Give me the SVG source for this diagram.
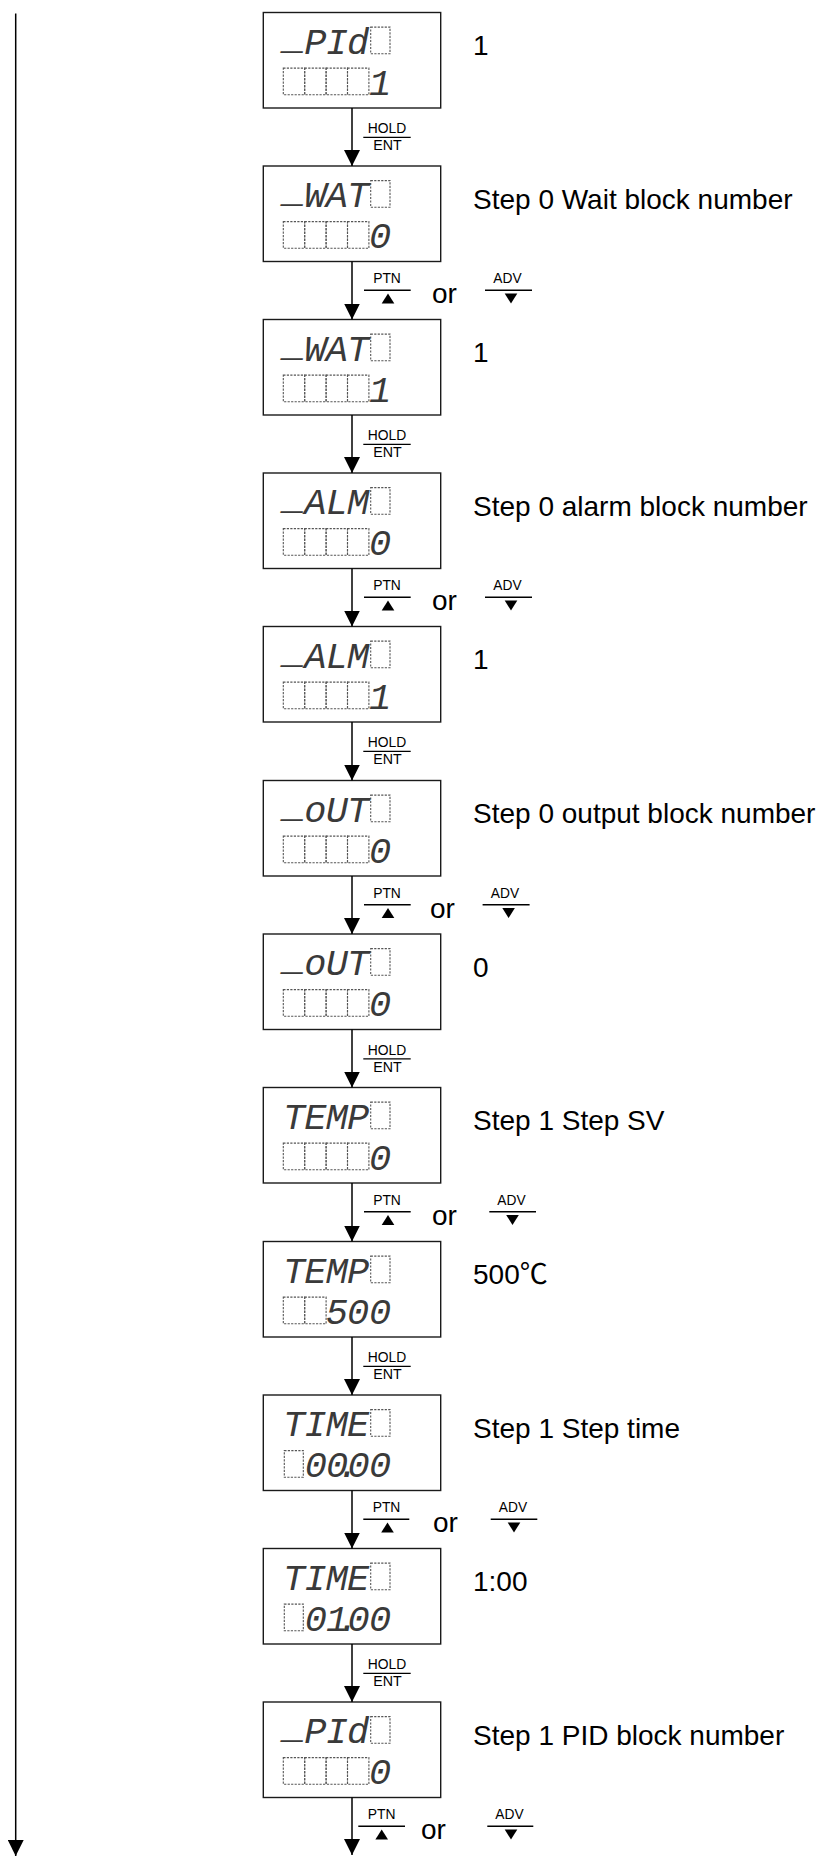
<svg xmlns="http://www.w3.org/2000/svg" width="826" height="1865" viewBox="0 0 826 1865">
<defs>
<style>
.box{fill:#fff;stroke:#1a1a1a;stroke-width:1.4}
.cell{fill:none;stroke:#555;stroke-width:1.1;stroke-dasharray:2.2 1.3}
.seg{font-family:"Liberation Mono","DejaVu Sans Mono",monospace;font-style:italic;font-size:37px;fill:#3a3a3a;text-anchor:middle}
.lbl{font-family:"Liberation Sans",Arial,"Noto Sans CJK JP",sans-serif;font-size:28px;fill:#000}
.key{font-family:"Liberation Sans",Arial,sans-serif;font-size:14px;fill:#000;text-anchor:middle}
.wire{stroke:#000;stroke-width:1.5;fill:none}
.bar{stroke:#000;stroke-width:1.4}
.tri{fill:#000}
</style>
<marker id="ah" markerUnits="userSpaceOnUse" markerWidth="16" markerHeight="16" viewBox="0 0 15 15" refX="15" refY="7.5" orient="auto"><path d="M0,0 L15,7.5 L0,15 z" fill="#000"/></marker>
<rect id="topcell" class="cell" x="370.7" y="14.6" width="19.3" height="26.7"/>
<g id="cells4">
<rect class="cell" x="283.3" y="55.6" width="21.4" height="26.7"/>
<rect class="cell" x="304.7" y="55.6" width="21.4" height="26.7"/>
<rect class="cell" x="326.1" y="55.6" width="21.4" height="26.7"/>
<rect class="cell" x="347.5" y="55.6" width="21.4" height="26.7"/>
</g>
</defs>
<rect width="826" height="1865" fill="#fff"/>

<g id="n1" transform="translate(0,12.5)">
<rect class="box" x="263.3" y="0" width="177.4" height="95.5"/>
<use href="#topcell"/><use href="#cells4"/>
<text class="seg"><tspan x="294" y="36">_</tspan><tspan x="315.4 336.8 358.2" y="41.3">PId</tspan></text>
<text class="seg" x="380" y="82.3">1</text>
<text class="lbl" x="473" y="42.5">1</text>
</g>

<g id="n2" transform="translate(0,166)">
<rect class="box" x="263.3" y="0" width="177.4" height="95.5"/>
<use href="#topcell"/><use href="#cells4"/>
<text class="seg"><tspan x="294" y="36">_</tspan><tspan x="315.4 336.8 358.2" y="41.3">WAT</tspan></text>
<text class="seg" x="380" y="82.3">0</text>
<text class="lbl" x="473" y="42.5">Step 0 Wait block number</text>
</g>

<g id="n3" transform="translate(0,319.5)">
<rect class="box" x="263.3" y="0" width="177.4" height="95.5"/>
<use href="#topcell"/><use href="#cells4"/>
<text class="seg"><tspan x="294" y="36">_</tspan><tspan x="315.4 336.8 358.2" y="41.3">WAT</tspan></text>
<text class="seg" x="380" y="82.3">1</text>
<text class="lbl" x="473" y="42.5">1</text>
</g>

<g id="n4" transform="translate(0,473)">
<rect class="box" x="263.3" y="0" width="177.4" height="95.5"/>
<use href="#topcell"/><use href="#cells4"/>
<text class="seg"><tspan x="294" y="36">_</tspan><tspan x="315.4 336.8 358.2" y="41.3">ALM</tspan></text>
<text class="seg" x="380" y="82.3">0</text>
<text class="lbl" x="473" y="42.5">Step 0 alarm block number</text>
</g>

<g id="n5" transform="translate(0,626.5)">
<rect class="box" x="263.3" y="0" width="177.4" height="95.5"/>
<use href="#topcell"/><use href="#cells4"/>
<text class="seg"><tspan x="294" y="36">_</tspan><tspan x="315.4 336.8 358.2" y="41.3">ALM</tspan></text>
<text class="seg" x="380" y="82.3">1</text>
<text class="lbl" x="473" y="42.5">1</text>
</g>

<g id="n6" transform="translate(0,780.5)">
<rect class="box" x="263.3" y="0" width="177.4" height="95.5"/>
<use href="#topcell"/><use href="#cells4"/>
<text class="seg"><tspan x="294" y="36">_</tspan><tspan x="315.4 336.8 358.2" y="41.3">oUT</tspan></text>
<text class="seg" x="380" y="82.3">0</text>
<text class="lbl" x="473" y="42.5">Step 0 output block number</text>
</g>

<g id="n7" transform="translate(0,934)">
<rect class="box" x="263.3" y="0" width="177.4" height="95.5"/>
<use href="#topcell"/><use href="#cells4"/>
<text class="seg"><tspan x="294" y="36">_</tspan><tspan x="315.4 336.8 358.2" y="41.3">oUT</tspan></text>
<text class="seg" x="380" y="82.3">0</text>
<text class="lbl" x="473" y="42.5">0</text>
</g>

<g id="n8" transform="translate(0,1087.5)">
<rect class="box" x="263.3" y="0" width="177.4" height="95.5"/>
<use href="#topcell"/><use href="#cells4"/>
<text class="seg" x="294 315.4 336.8 358.2" y="41.3">TEMP</text>
<text class="seg" x="380" y="82.3">0</text>
<text class="lbl" x="473" y="42.5">Step 1 Step SV</text>
</g>

<g id="n9" transform="translate(0,1241.5)">
<rect class="box" x="263.3" y="0" width="177.4" height="95.5"/>
<use href="#topcell"/>
<rect class="cell" x="283.3" y="55.6" width="21.4" height="26.7"/>
<rect class="cell" x="304.7" y="55.6" width="21.4" height="26.7"/>
<text class="seg" x="294 315.4 336.8 358.2" y="41.3">TEMP</text>
<text class="seg" x="336.8 358.2 380" y="82.3">500</text>
<text class="lbl" x="473" y="42.5">500℃</text>
</g>

<g id="n10" transform="translate(0,1395)">
<rect class="box" x="263.3" y="0" width="177.4" height="95.5"/>
<use href="#topcell"/>
<rect class="cell" x="284.3" y="55.6" width="19" height="26.7"/>
<text class="seg" x="294 315.4 336.8 358.2" y="41.3">TIME</text>
<text class="seg" x="315.8 337.2 348 358.6 380" y="82.3">00.00</text>
<text class="lbl" x="473" y="42.5">Step 1 Step time</text>
</g>

<g id="n11" transform="translate(0,1548.5)">
<rect class="box" x="263.3" y="0" width="177.4" height="95.5"/>
<use href="#topcell"/>
<rect class="cell" x="284.3" y="55.6" width="19" height="26.7"/>
<text class="seg" x="294 315.4 336.8 358.2" y="41.3">TIME</text>
<text class="seg" x="315.8 337.2 348 358.6 380" y="82.3">01.00</text>
<text class="lbl" x="473" y="42.5">1:00</text>
</g>

<g id="n12" transform="translate(0,1702)">
<rect class="box" x="263.3" y="0" width="177.4" height="95.5"/>
<use href="#topcell"/><use href="#cells4"/>
<text class="seg"><tspan x="294" y="36">_</tspan><tspan x="315.4 336.8 358.2" y="41.3">PId</tspan></text>
<text class="seg" x="380" y="82.3">0</text>
<text class="lbl" x="473" y="42.5">Step 1 PID block number</text>
</g>

<g id="connectors">
<line class="wire" x1="15.7" y1="13.6" x2="15.7" y2="1856" marker-end="url(#ah)"/>
<line class="wire" x1="352" y1="108" x2="352" y2="166" marker-end="url(#ah)"/>
<line class="wire" x1="352" y1="261.5" x2="352" y2="319.5" marker-end="url(#ah)"/>
<line class="wire" x1="352" y1="415" x2="352" y2="473" marker-end="url(#ah)"/>
<line class="wire" x1="352" y1="568.5" x2="352" y2="626.5" marker-end="url(#ah)"/>
<line class="wire" x1="352" y1="722" x2="352" y2="780.5" marker-end="url(#ah)"/>
<line class="wire" x1="352" y1="876" x2="352" y2="934" marker-end="url(#ah)"/>
<line class="wire" x1="352" y1="1029.5" x2="352" y2="1087.5" marker-end="url(#ah)"/>
<line class="wire" x1="352" y1="1183" x2="352" y2="1241.5" marker-end="url(#ah)"/>
<line class="wire" x1="352" y1="1337" x2="352" y2="1395" marker-end="url(#ah)"/>
<line class="wire" x1="352" y1="1490.5" x2="352" y2="1548.5" marker-end="url(#ah)"/>
<line class="wire" x1="352" y1="1644" x2="352" y2="1702" marker-end="url(#ah)"/>
<line class="wire" x1="352" y1="1797.5" x2="352" y2="1855" marker-end="url(#ah)"/>

<g transform="translate(0,108)">
<text class="key" x="387" y="25" textLength="38.5" lengthAdjust="spacingAndGlyphs">HOLD</text>
<line class="bar" x1="363.3" y1="29.4" x2="410.7" y2="29.4"/>
<text class="key" x="387.5" y="42.4" textLength="28.4" lengthAdjust="spacingAndGlyphs">ENT</text>
</g>
<g transform="translate(0,261.5)">
<text class="key" x="387" y="21.5" textLength="27.7" lengthAdjust="spacingAndGlyphs">PTN</text>
<line class="bar" x1="364" y1="28.8" x2="410.7" y2="28.8"/>
<polygon class="tri" points="388,32 394.3,42 381.7,42"/>
<text class="lbl" x="432" y="41.5">or</text>
<text class="key" x="507.5" y="21.5" textLength="28.3" lengthAdjust="spacingAndGlyphs">ADV</text>
<line class="bar" x1="485" y1="28.8" x2="532" y2="28.8"/>
<polygon class="tri" points="504.7,32 517.3,32 511,42"/>
</g>
<g transform="translate(0,415)">
<text class="key" x="387" y="25" textLength="38.5" lengthAdjust="spacingAndGlyphs">HOLD</text>
<line class="bar" x1="363.3" y1="29.4" x2="410.7" y2="29.4"/>
<text class="key" x="387.5" y="42.4" textLength="28.4" lengthAdjust="spacingAndGlyphs">ENT</text>
</g>
<g transform="translate(0,568.5)">
<text class="key" x="387" y="21.5" textLength="27.7" lengthAdjust="spacingAndGlyphs">PTN</text>
<line class="bar" x1="364" y1="28.8" x2="410.7" y2="28.8"/>
<polygon class="tri" points="388,32 394.3,42 381.7,42"/>
<text class="lbl" x="432" y="41.5">or</text>
<text class="key" x="507.5" y="21.5" textLength="28.3" lengthAdjust="spacingAndGlyphs">ADV</text>
<line class="bar" x1="485" y1="28.8" x2="532" y2="28.8"/>
<polygon class="tri" points="504.7,32 517.3,32 511,42"/>
</g>
<g transform="translate(0,722)">
<text class="key" x="387" y="25" textLength="38.5" lengthAdjust="spacingAndGlyphs">HOLD</text>
<line class="bar" x1="363.3" y1="29.4" x2="410.7" y2="29.4"/>
<text class="key" x="387.5" y="42.4" textLength="28.4" lengthAdjust="spacingAndGlyphs">ENT</text>
</g>
<g transform="translate(0,876)">
<text class="key" x="387" y="21.5" textLength="27.7" lengthAdjust="spacingAndGlyphs">PTN</text>
<line class="bar" x1="364" y1="28.8" x2="410.7" y2="28.8"/>
<polygon class="tri" points="388,32 394.3,42 381.7,42"/>
<text class="lbl" x="430" y="41.5">or</text>
<text class="key" x="505" y="21.5" textLength="28.3" lengthAdjust="spacingAndGlyphs">ADV</text>
<line class="bar" x1="482.6" y1="28.8" x2="529.6" y2="28.8"/>
<polygon class="tri" points="502.3,32 514.9,32 508.6,42"/>
</g>
<g transform="translate(0,1029.5)">
<text class="key" x="387" y="25" textLength="38.5" lengthAdjust="spacingAndGlyphs">HOLD</text>
<line class="bar" x1="363.3" y1="29.4" x2="410.7" y2="29.4"/>
<text class="key" x="387.5" y="42.4" textLength="28.4" lengthAdjust="spacingAndGlyphs">ENT</text>
</g>
<g transform="translate(0,1183)">
<text class="key" x="387" y="21.5" textLength="27.7" lengthAdjust="spacingAndGlyphs">PTN</text>
<line class="bar" x1="364" y1="28.8" x2="410.7" y2="28.8"/>
<polygon class="tri" points="388,32 394.3,42 381.7,42"/>
<text class="lbl" x="432" y="41.5">or</text>
<text class="key" x="511.5" y="21.5" textLength="28.3" lengthAdjust="spacingAndGlyphs">ADV</text>
<line class="bar" x1="489.3" y1="28.8" x2="536" y2="28.8"/>
<polygon class="tri" points="506.2,32 518.8,32 512.5,42"/>
</g>
<g transform="translate(0,1337)">
<text class="key" x="387" y="25" textLength="38.5" lengthAdjust="spacingAndGlyphs">HOLD</text>
<line class="bar" x1="363.3" y1="29.4" x2="410.7" y2="29.4"/>
<text class="key" x="387.5" y="42.4" textLength="28.4" lengthAdjust="spacingAndGlyphs">ENT</text>
</g>
<g transform="translate(0,1490.5)">
<text class="key" x="386.5" y="21.5" textLength="27.7" lengthAdjust="spacingAndGlyphs">PTN</text>
<line class="bar" x1="363.3" y1="28.8" x2="409.3" y2="28.8"/>
<polygon class="tri" points="387.5,32 393.8,42 381.2,42"/>
<text class="lbl" x="433" y="41.5">or</text>
<text class="key" x="513" y="21.5" textLength="28.3" lengthAdjust="spacingAndGlyphs">ADV</text>
<line class="bar" x1="490.7" y1="28.8" x2="537.3" y2="28.8"/>
<polygon class="tri" points="507.7,32 520.3,32 514,42"/>
</g>
<g transform="translate(0,1644)">
<text class="key" x="387" y="25" textLength="38.5" lengthAdjust="spacingAndGlyphs">HOLD</text>
<line class="bar" x1="363.3" y1="29.4" x2="410.7" y2="29.4"/>
<text class="key" x="387.5" y="42.4" textLength="28.4" lengthAdjust="spacingAndGlyphs">ENT</text>
</g>
<g transform="translate(0,1797.5)">
<text class="key" x="381.7" y="21.5" textLength="27.7" lengthAdjust="spacingAndGlyphs">PTN</text>
<line class="bar" x1="358.3" y1="28.8" x2="405" y2="28.8"/>
<polygon class="tri" points="381.7,32 388,42 375.4,42"/>
<text class="lbl" x="421" y="41.5">or</text>
<text class="key" x="509.5" y="21.5" textLength="28.3" lengthAdjust="spacingAndGlyphs">ADV</text>
<line class="bar" x1="487.3" y1="28.8" x2="533.3" y2="28.8"/>
<polygon class="tri" points="504.7,32 517.3,32 511,42"/>
</g>
</g>
</svg>
